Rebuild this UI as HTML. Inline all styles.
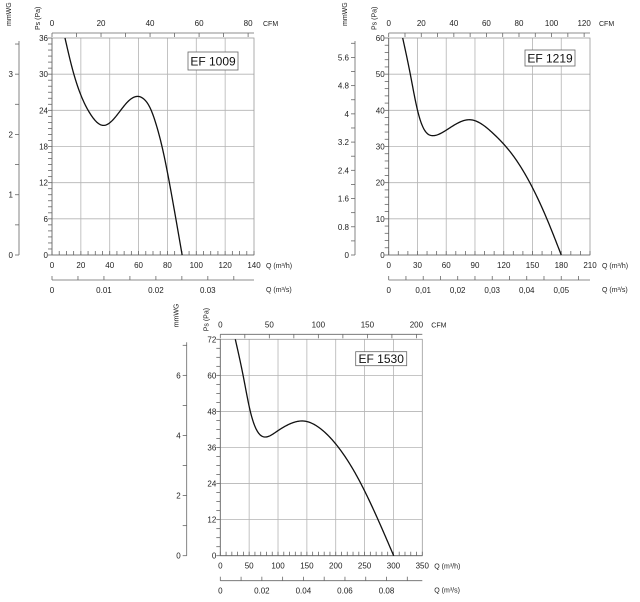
<!DOCTYPE html>
<html><head><meta charset="utf-8"><style>
html,body{margin:0;padding:0;background:#fff;}
svg{display:block;font-family:"Liberation Sans",sans-serif;}
</style></head><body>
<svg id="s" width="640" height="602" viewBox="0 0 640 602"></svg>
<script>
// Chart 1: EF 1009
const c1Q=[9,14,19.4,26.3,35.5,45,52,58.6,64,68,72,77,84,90.2];
const c1P=[36,31,26.9,23.5,21.5,23.2,25.3,26.3,25.8,24.4,21.8,17.2,8.5,0];
const c1QTicks=[0,20,40,60,80,100,120,140];
const c1PTicks=[0,6,12,18,24,30,36];
const c1CfmTicks=[0,20,40,60,80];
const c1MwgTicks=[0,1,2,3];
const c1M3sTicks=["0","0.01","0.02","0.03"];
// Chart 2: EF 1219
const c2Q=[14.6,22.3,29.9,36.2,46.6,60.5,85,109,130,150,165,180];
const c2P=[60,50.3,40.2,35.1,33,34.6,37.4,33.6,27.4,18.6,10.0,0];
const c2QTicks=[0,30,60,90,120,150,180,210];
const c2PTicks=[0,10,20,30,40,50,60];
const c2CfmTicks=[0,20,40,60,80,100,120];
const c2MwgTicks=[0,0.8,1.6,2.4,3.2,4,4.8,5.6];
const c2M3sTicks=["0","0,01","0,02","0,03","0,04","0,05"];
// Chart 3: EF 1530
const c3Q=[26,39.9,51.4,63,79.1,97.6,126.5,145,172.7,201.6,236.3,300.4];
const c3P=[72,59.6,48.5,41.8,39.5,41.3,44.3,44.8,42.4,36.8,26.6,0];
const c3QTicks=[0,50,100,150,200,250,300,350];
const c3PTicks=[0,12,24,36,48,60,72];
const c3CfmTicks=[0,50,100,150,200];
const c3MwgTicks=[0,2,4,6];
const c3M3sTicks=["0","0.02","0.04","0.06","0.08"];

const NS="http://www.w3.org/2000/svg";
const svg=document.getElementById('s');
function mk(tag,attrs,parent,text){const e=document.createElementNS(NS,tag);for(const k in attrs)e.setAttribute(k,attrs[k]);if(text!==undefined)e.textContent=text;parent.appendChild(e);return e;}

function spline(xs,ys){
  const n=xs.length-1,h=[],a=[],l=[1],mu=[0],z=[0],c=new Array(n+1).fill(0),b=[],d=[];
  for(let i=0;i<n;i++)h[i]=xs[i+1]-xs[i];
  for(let i=1;i<n;i++)a[i]=3/h[i]*(ys[i+1]-ys[i])-3/h[i-1]*(ys[i]-ys[i-1]);
  for(let i=1;i<n;i++){l[i]=2*(xs[i+1]-xs[i-1])-h[i-1]*mu[i-1];mu[i]=h[i]/l[i];z[i]=(a[i]-h[i-1]*z[i-1])/l[i];}
  l[n]=1;z[n]=0;
  for(let j=n-1;j>=0;j--){c[j]=z[j]-mu[j]*c[j+1];b[j]=(ys[j+1]-ys[j])/h[j]-h[j]*(c[j+1]+2*c[j])/3;d[j]=(c[j+1]-c[j])/(3*h[j]);}
  return x=>{let j=0;while(j<n-1&&x>xs[j+1])j++;const t=x-xs[j];return ys[j]+b[j]*t+c[j]*t*t+d[j]*t*t*t;};
}

function chart(cfg){
  const g=mk('g',{},svg);
  
  
  const {L,R,T,B,qMax,pMax}=cfg;
  const X=q=>L+q/qMax*(R-L);
  const Y=p=>B-p/pMax*(B-T);
  const grid=mk('g',{stroke:'#b4b4b4','stroke-width':0.8},g);
  
  
  cfg.qTicks.forEach(q=>{if(q>0&&q<qMax)mk('line',{x1:X(q),x2:X(q),y1:T,y2:B},grid);});
  cfg.pTicks.forEach(p=>{if(p>0&&p<pMax)mk('line',{x1:L,x2:R,y1:Y(p),y2:Y(p)},grid);});
  mk('rect',{x:L,y:T,width:R-L,height:B-T,fill:'none',stroke:'#999','stroke-width':0.8},g);
  const ax=mk('g',{stroke:'#666','stroke-width':0.8,fill:'none'},g);
  mk('line',{x1:L,x2:L,y1:T,y2:B},ax);
  for(let p=0;p<=pMax+1e-9;p+=cfg.pMinor) mk('line',{x1:L-4,x2:L,y1:Y(p),y2:Y(p)},ax);
  cfg.pTicks.forEach(p=>{const t=mk('text',{x:L-4,y:Y(p)+3,'font-size':8,'text-anchor':'end',fill:'#222'},g,String(p));});
  mk('line',{x1:L,x2:R,y1:B,y2:B},ax);
  for(let q=0;q<=qMax+1e-9;q+=cfg.qMinor) mk('line',{x1:X(q),x2:X(q),y1:B-4,y2:B},ax);
  cfg.qTicks.forEach(q=>{const t=mk('text',{x:X(q),y:B+13,'font-size':8,'text-anchor':'middle',fill:'#222'},g,String(q));});
  const ql=mk('text',{x:R+12,y:B+13,'font-size':7,fill:'#222'},g,'Q (m³/h)');
  
  const ys=B+25;
  mk('line',{x1:L,x2:R,y1:ys,y2:ys},ax);
  for(let s=0;X(s*3600)<=R+0.1;s+=cfg.sMinor) mk('line',{x1:X(s*3600),x2:X(s*3600),y1:ys-4,y2:ys},ax);
  cfg.sTicks.forEach(lbl=>{const v=parseFloat(lbl.replace(',','.'));const t=mk('text',{x:X(v*3600),y:ys+13,'font-size':8,'text-anchor':'middle',fill:'#222'},g,lbl);});
  const sl=mk('text',{x:R+12,y:ys+12,'font-size':7,fill:'#222'},g,'Q (m³/s)');
  
  const yc=T-5;
  mk('line',{x1:L,x2:R,y1:yc,y2:yc},ax);
  for(let c=0;X(c*1.699)<=R+0.1;c+=cfg.cMinor) mk('line',{x1:X(c*1.699),x2:X(c*1.699),y1:yc,y2:yc+4},ax);
  cfg.cTicks.forEach(c=>{const t=mk('text',{x:X(c*1.699),y:yc-7,'font-size':8,'text-anchor':'middle',fill:'#222'},g,String(c));});
  const cl=mk('text',{x:R+9,y:yc-7,'font-size':7,fill:'#222'},g,'CFM');
  
  const xm=cfg.xm, M=v=>B-v/cfg.mMax*(B-T);
  mk('line',{x1:xm,x2:xm,y1:T+3,y2:B},ax);
  const st=cfg.mTicks[1]-cfg.mTicks[0];
  for(let v=0;v<=cfg.mMax+1e-9;v+=st/2) mk('line',{x1:xm-4,x2:xm,y1:M(v),y2:M(v)},ax);
  cfg.mTicks.forEach(v=>{const t=mk('text',{x:xm-6,y:M(v)+3,'font-size':8,'text-anchor':'end',fill:'#222'},g,String(v));});
  const mt=mk('text',{x:0,y:0,'font-size':7,fill:'#222','text-anchor':'start',transform:`translate(${xm-8},${T-12}) rotate(-90)`},g,'mmWG');
  
  const pt=mk('text',{x:0,y:0,'font-size':7,fill:'#222','text-anchor':'start',transform:`translate(${L-12},${T-8}) rotate(-90)`},g,'Ps (Pa)');
  
  const f=spline(cfg.q,cfg.p);
  const q0=cfg.q[0],q1=cfg.q[cfg.q.length-1];
  let d='';
  for(let i=0;i<=300;i++){const q=q0+(q1-q0)*i/300;d+=(i?' L':'M')+X(q).toFixed(2)+','+Y(f(q)).toFixed(2);}
  const cv=mk('path',{d,fill:'none',stroke:'#111','stroke-width':1.3},g);
  
  const bx=cfg.box;
  mk('rect',{x:bx[0],y:bx[1],width:bx[2],height:bx[3],fill:'#fff',stroke:'#666','stroke-width':0.8},g);
  const mlab=mk('text',{x:bx[0]+bx[2]/2,y:bx[1]+bx[3]/2+4.5,'font-size':12,'text-anchor':'middle',fill:'#111'},g,cfg.title);
  
}

chart({name:'chart-ef-1009',title:'EF 1009',L:52,R:254,T:38,B:255,qMax:140,pMax:36,q:c1Q,p:c1P,qTicks:c1QTicks,pTicks:c1PTicks,qMinor:5,pMinor:1,sMinor:0.005,sTicks:c1M3sTicks,cTicks:c1CfmTicks,cMinor:10,xm:19,mMax:3.6,mTicks:c1MwgTicks,box:[188,52,50,18]});
chart({name:'chart-ef-1219',title:'EF 1219',L:388.7,R:590,T:38,B:255,qMax:210,pMax:60,q:c2Q,p:c2P,qTicks:c2QTicks,pTicks:c2PTicks,qMinor:10,pMinor:2,sMinor:0.005,sTicks:c2M3sTicks,cTicks:c2CfmTicks,cMinor:10,xm:355,mMax:6.15,mTicks:c2MwgTicks,box:[525,50,50,16]});
chart({name:'chart-ef-1530',title:'EF 1530',L:220.3,R:422.3,T:339.3,B:555.7,qMax:350,pMax:72,q:c3Q,p:c3P,qTicks:c3QTicks,pTicks:c3PTicks,qMinor:10,pMinor:3,sMinor:0.01,sTicks:c3M3sTicks,cTicks:c3CfmTicks,cMinor:25,xm:186.7,mMax:7.2,mTicks:c3MwgTicks,box:[355.7,351.7,51,14]});
</script>
</body></html>
